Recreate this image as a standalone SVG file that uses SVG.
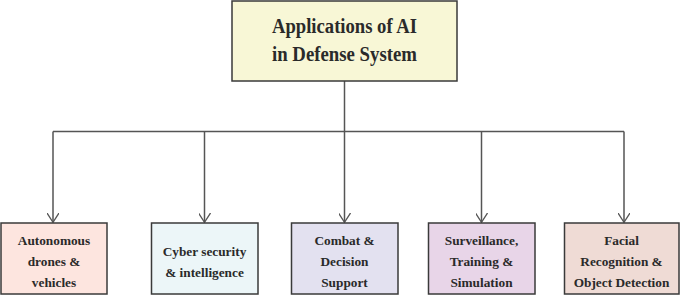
<svg xmlns="http://www.w3.org/2000/svg" width="685" height="295" viewBox="0 0 685 295">
<defs>
<style>
.box{stroke:#3a3a3a;stroke-width:1.5}
.t{font-family:"Liberation Serif","Times New Roman",serif;font-weight:bold;fill:#2a2a2a;text-anchor:middle}
.title{font-size:20.5px}
.lbl{font-size:13.3px}
.c{fill:none;stroke:#555;stroke-width:1.5}
</style>
<marker id="ah" viewBox="0 0 10 12" refX="9.3" refY="6" markerWidth="10" markerHeight="12" markerUnits="userSpaceOnUse" orient="auto">
<path d="M0,0 L9.3,6 L0,12" fill="none" stroke="#555" stroke-width="1.3"/>
</marker>
</defs>
<rect width="685" height="295" fill="#fff"/>
<g id="connectors">
<path class="c" d="M344.5,81 V131.5"/>
<path class="c" d="M53,131.5 H624"/>
<path class="c" d="M53,131.5 V222.3" marker-end="url(#ah)"/>
<path class="c" d="M204.5,131.5 V222.3" marker-end="url(#ah)"/>
<path class="c" d="M344.5,131.5 V222.3" marker-end="url(#ah)"/>
<path class="c" d="M481.5,131.5 V222.3" marker-end="url(#ah)"/>
<path class="c" d="M624,131.5 V222.3" marker-end="url(#ah)"/>
</g>
<g id="root">
<rect class="box" x="232" y="1" width="225" height="80" fill="#f8f7d6"/>
<text class="t title" x="344.5" y="33" textLength="145" lengthAdjust="spacingAndGlyphs">Applications of AI</text>
<text class="t title" x="344.5" y="61" textLength="145" lengthAdjust="spacingAndGlyphs">in Defense System</text>
</g>
<g id="n1">
<rect class="box" x="1" y="223" width="106" height="71" fill="#fde5df"/>
<text class="t lbl" x="54" y="245">Autonomous</text>
<text class="t lbl" x="54" y="266">drones &amp;</text>
<text class="t lbl" x="54" y="286.5">vehicles</text>
</g>
<g id="n2">
<rect class="box" x="151.5" y="223" width="106.5" height="71" fill="#ecf6f8"/>
<text class="t lbl" x="204.5" y="256">Cyber security</text>
<text class="t lbl" x="204.5" y="277">&amp; intelligence</text>
</g>
<g id="n3">
<rect class="box" x="291.5" y="223" width="106.5" height="71" fill="#e3e1f0"/>
<text class="t lbl" x="344.5" y="245">Combat &amp;</text>
<text class="t lbl" x="344.5" y="266">Decision</text>
<text class="t lbl" x="344.5" y="286.5">Support</text>
</g>
<g id="n4">
<rect class="box" x="428.5" y="223" width="106.5" height="71" fill="#e8d5e8"/>
<text class="t lbl" x="481.5" y="245">Surveillance,</text>
<text class="t lbl" x="481.5" y="266">Training &amp;</text>
<text class="t lbl" x="481.5" y="286.5">Simulation</text>
</g>
<g id="n5">
<rect class="box" x="564.5" y="223" width="114.5" height="71" fill="#efdbd5"/>
<text class="t lbl" x="621.5" y="245">Facial</text>
<text class="t lbl" x="621.5" y="266">Recognition &amp;</text>
<text class="t lbl" x="621.5" y="286.5">Object Detection</text>
</g>
</svg>
